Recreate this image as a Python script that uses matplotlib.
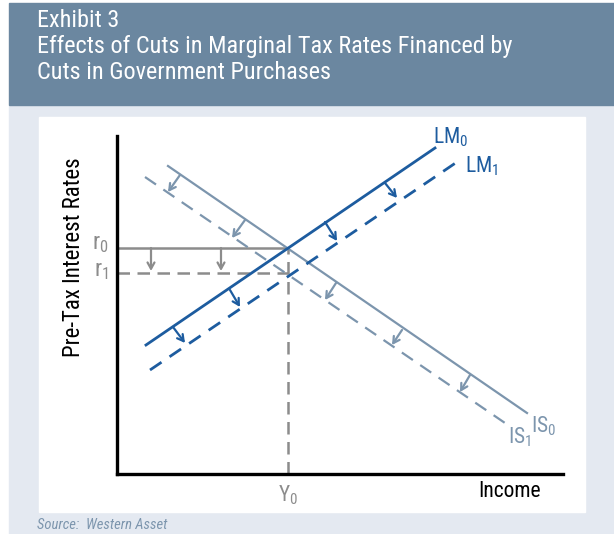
"""
Exhibit 3: IS-LM diagram, effects of marginal tax rate cuts
financed by cuts in government purchases
"""

import matplotlib

matplotlib.use("Agg")
import matplotlib.pyplot as plt
from matplotlib.patches import Rectangle

plt.rcParams["font.family"] = ["Roboto Condensed", "Liberation Sans Narrow",
                               "Roboto", "DejaVu Sans"]
plt.rcParams["mathtext.fontset"] = "custom"

# ── chart data (diagram units: income on x, rate on y) ──
lm0_x = [29, 318]
lm0_y = [129, 326]
lm1_x = [33, 340]
lm1_y = [104, 312]
is0_x = [51, 410]
is0_y = [308, 61]
is1_x = [28, 388]
is1_y = [297, 51]

r0 = 226
r1 = 201
y0 = 171

# shift arrows: (x_from, y_from, x_to, y_to)
lm_arrows = [
    (56, 147, 68, 131),
    (113, 184, 123, 167),
    (208, 252, 220, 233),
    (268, 291, 280, 276),
]
is_arrows = [
    (63, 299, 51, 282),
    (128, 254, 115, 236),
    (219, 191, 208, 174),
    (285, 144, 275, 129),
    (353, 99, 343, 82),
]
r_arrow_x = [34, 104]

title_lines = [
    "Exhibit 3",
    "Effects of Cuts in Marginal Tax Rates Financed by",
    "Cuts in Government Purchases",
]

# ── colours ──
HEADER = "#6b87a0"
PANEL = "#e4e9f1"
IS_COL = "#7c95ad"
LM_COL = "#1d5c9f"
GRAY = "#8c8c8c"

W, H = 614, 534
fig = plt.figure(figsize=(W / 100, H / 100), dpi=100)


def fx(px):
    return px / W


def fy(py):
    return 1 - py / H


# ── background blocks ──
fig.patches.append(Rectangle((fx(9), fy(534)), fx(605), 428 / H,
                             transform=fig.transFigure, color=PANEL, zorder=0))
fig.patches.append(Rectangle((fx(9), fy(105)), fx(605), 102 / H,
                             transform=fig.transFigure, color=HEADER, zorder=0))
fig.patches.append(Rectangle((fx(39), fy(512)), fx(546), 395 / H,
                             transform=fig.transFigure, color="white", zorder=0))

for i, line in enumerate(title_lines):
    fig.text(fx(37), fy(27 + 26 * i), line, color="white", fontsize=17.5,
             va="baseline", ha="left")

fig.text(fx(37), fy(529), "Source:  Western Asset", color=IS_COL,
         fontsize=10.5, style="italic", va="baseline", ha="left")

fig.text(fx(73), fy(257), "Pre-Tax Interest Rates", color="black",
         fontsize=16.5, rotation=90, va="center", ha="center")

# ── main axes ──
ax = fig.add_axes([fx(117), fy(474), 446 / W, 338 / H])
ax.set_zorder(2)
ax.set_facecolor("none")
ax.set_xlim(0, 446)
ax.set_ylim(0, 338)
for side in ["top", "right"]:
    ax.spines[side].set_visible(False)
for side in ["left", "bottom"]:
    ax.spines[side].set_linewidth(2.4)
    ax.spines[side].set_color("black")
ax.set_xticks([])
ax.set_yticks([])

# r0 / r1 / Y0 guides
ax.plot([0, y0], [r0, r0], color=GRAY, lw=1.8, solid_capstyle="butt")
ax.plot([0, y0], [r1, r1], color=GRAY, lw=1.8, dashes=(5, 3))
ax.plot([y0, y0], [0, r0], color=GRAY, lw=1.8, dashes=(5, 3))

# IS curves
ax.plot(is0_x, is0_y, color=IS_COL, lw=1.6)
ax.plot(is1_x, is1_y, color=IS_COL, lw=1.6, dashes=(6, 4))

# LM curves
ax.plot(lm0_x, lm0_y, color=LM_COL, lw=2.0)
ax.plot(lm1_x, lm1_y, color=LM_COL, lw=2.0, dashes=(5, 3.5))

# shift arrows
arrow_kw = "->, head_length=0.45, head_width=0.25"
for x0, ya, x1, yb in lm_arrows:
    ax.annotate("", xy=(x1, yb), xytext=(x0, ya),
                arrowprops=dict(arrowstyle=arrow_kw, color=LM_COL, lw=1.6,
                                shrinkA=0, shrinkB=0))
for x0, ya, x1, yb in is_arrows:
    ax.annotate("", xy=(x1, yb), xytext=(x0, ya),
                arrowprops=dict(arrowstyle=arrow_kw, color=IS_COL, lw=1.6,
                                shrinkA=0, shrinkB=0))
for xa in r_arrow_x:
    ax.annotate("", xy=(xa, r1 + 2), xytext=(xa, r0),
                arrowprops=dict(arrowstyle=arrow_kw, color=GRAY, lw=1.6,
                                shrinkA=0, shrinkB=0))


def sub_label(x, y, main, sub, color, size=15.5, ha="left", va="baseline"):
    """main text with a small subscript, drawn in the regular font"""
    ax.text(x, y, r"$\mathregular{%s_{%s}}$" % (main, sub), color=color,
            fontsize=size, va=va, ha=ha)


# curve labels
sub_label(316, 331, "LM", "0", LM_COL)
sub_label(348, 302, "LM", "1", LM_COL)
sub_label(414, 42, "IS", "0", IS_COL)
sub_label(391, 31, "IS", "1", IS_COL)

sub_label(-8, r0 - 1, "r", "0", GRAY, size=17, ha="right")
sub_label(-8, r1 - 3, "r", "1", GRAY, size=17, ha="right")
sub_label(y0, -9, "Y", "0", GRAY, ha="center", va="top")

ax.text(393, -7, "Income", color="black", fontsize=15.5, va="top",
        ha="center")

fig.savefig("out.png", dpi=100)
